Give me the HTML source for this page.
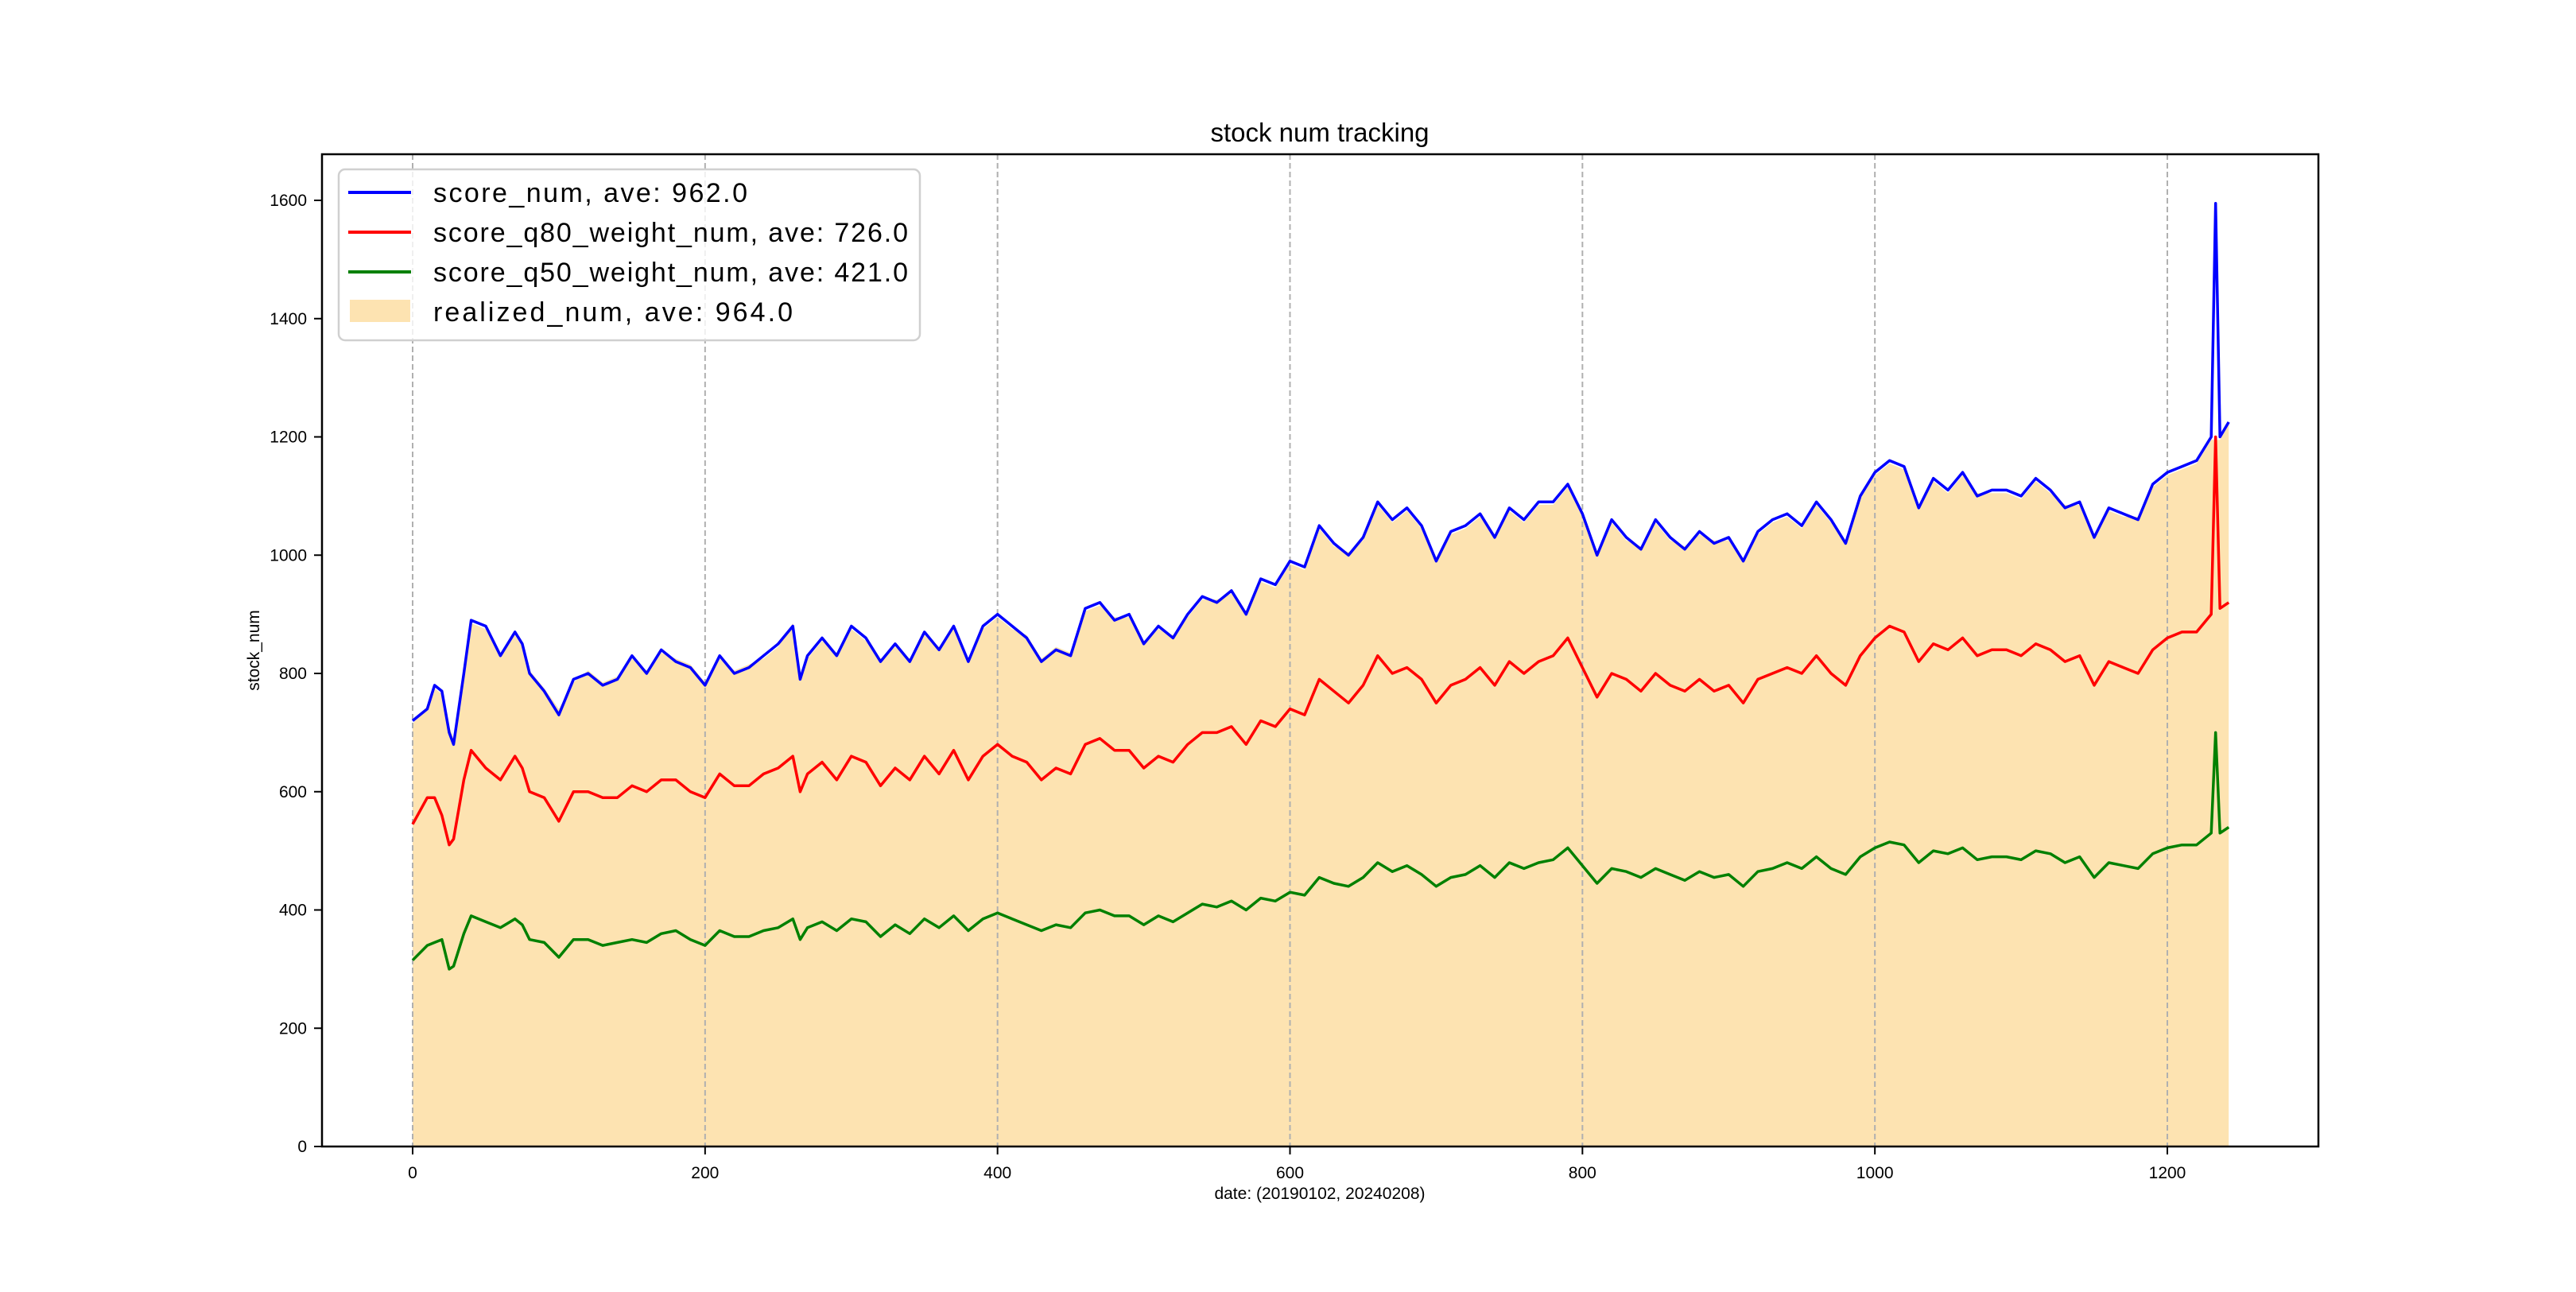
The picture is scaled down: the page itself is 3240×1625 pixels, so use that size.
<!DOCTYPE html>
<html><head><meta charset="utf-8"><style>
html,body{margin:0;padding:0;background:#fff}
svg text{font-family:"Liberation Sans","WenQuanYi Zen Hei",sans-serif}
</style></head><body>
<svg id="chart" width="3240" height="1620" xmlns="http://www.w3.org/2000/svg">
<rect width="3240" height="1620" fill="#fff"/>
<g id="fillLayer"></g>
<g id="gridLayer"></g>
<g id="lineLayer"></g>
<rect x="405" y="194" width="2511" height="1248" fill="none" stroke="#000" stroke-width="2.5"/>
<g id="axisLayer"></g>
<text x="1660" y="178" font-size="33" text-anchor="middle">stock num tracking</text>
<text x="1660" y="1508" font-size="21" text-anchor="middle">date: (20190102, 20240208)</text>
<text x="0" y="0" font-size="21" text-anchor="middle" transform="translate(326,818) rotate(-90)">stock_num</text>
<g>
<rect x="426" y="213" width="731" height="215" rx="8" fill="#fff" fill-opacity="0.8" stroke="#d0d0d0" stroke-width="2.5"/>
<line x1="438" y1="242" x2="517" y2="242" stroke="#0000ff" stroke-width="4"/>
<text x="545" y="254" font-size="34" textLength="395">score_num, ave: 962.0</text>
<line x1="438" y1="292" x2="517" y2="292" stroke="#ff0000" stroke-width="4"/>
<text x="545" y="304" font-size="34" textLength="597">score_q80_weight_num, ave: 726.0</text>
<line x1="438" y1="342" x2="517" y2="342" stroke="#008000" stroke-width="4"/>
<text x="545" y="354" font-size="34" textLength="597">score_q50_weight_num, ave: 421.0</text>
<rect x="440" y="377" width="76" height="28" fill="#fde3b1"/>
<text x="545" y="404" font-size="34" textLength="452">realized_num, ave: 964.0</text>
</g>
</svg>
<script>
const days=[0,10,15,20,25,28,35,40,50,60,70,75,80,90,100,110,120,130,140,150,160,170,180,190,200,210,220,230,240,250,260,265,270,280,290,300,310,320,330,340,350,360,370,380,390,400,410,420,430,440,450,460,470,480,490,500,510,520,530,540,550,560,570,580,590,600,610,620,630,640,650,660,670,680,690,700,710,720,730,740,750,760,770,780,790,800,810,820,830,840,850,860,870,880,890,900,910,920,930,940,950,960,970,980,990,1000,1010,1020,1030,1040,1050,1060,1070,1080,1090,1100,1110,1120,1130,1140,1150,1160,1170,1180,1190,1200,1210,1220,1230,1233,1236,1242];
const scoreNum=[720,740,780,770,700,680,800,890,880,830,870,850,800,770,730,790,800,780,790,830,800,840,820,810,780,830,800,810,830,850,880,790,830,860,830,880,860,820,850,820,870,840,880,820,880,900,880,860,820,840,830,910,920,890,900,850,880,860,900,930,920,940,900,960,950,990,980,1050,1020,1000,1030,1090,1060,1080,1050,990,1040,1050,1070,1030,1080,1060,1090,1090,1120,1070,1000,1060,1030,1010,1060,1030,1010,1040,1020,1030,990,1040,1060,1070,1050,1090,1060,1020,1100,1140,1160,1150,1080,1130,1110,1140,1100,1110,1110,1100,1130,1110,1080,1090,1030,1080,1070,1060,1120,1140,1150,1160,1200,1595,1200,1225];
const q80Num=[545,590,590,560,510,520,620,670,640,620,660,640,600,590,550,600,600,590,590,610,600,620,620,600,590,630,610,610,630,640,660,600,630,650,620,660,650,610,640,620,660,630,670,620,660,680,660,650,620,640,630,680,690,670,670,640,660,650,680,700,700,710,680,720,710,740,730,790,770,750,780,830,800,810,790,750,780,790,810,780,820,800,820,830,860,810,760,800,790,770,800,780,770,790,770,780,750,790,800,810,800,830,800,780,830,860,880,870,820,850,840,860,830,840,840,830,850,840,820,830,780,820,810,800,840,860,870,870,900,1200,910,920];
const q50Num=[315,340,345,350,300,305,360,390,380,370,385,375,350,345,320,350,350,340,345,350,345,360,365,350,340,365,355,355,365,370,385,350,370,380,365,385,380,355,375,360,385,370,390,365,385,395,385,375,365,375,370,395,400,390,390,375,390,380,395,410,405,415,400,420,415,430,425,455,445,440,455,480,465,475,460,440,455,460,475,455,480,470,480,485,505,475,445,470,465,455,470,460,450,465,455,460,440,465,470,480,470,490,470,460,490,505,515,510,480,500,495,505,485,490,490,485,500,495,480,490,455,480,475,470,495,505,510,510,530,700,530,540];
const realizedNum=[715,745,775,765,710,690,795,885,875,835,865,845,805,775,740,785,805,785,795,825,805,835,825,815,785,825,805,815,825,845,885,795,825,855,835,875,855,825,845,825,865,845,875,825,875,895,875,865,825,845,835,905,915,895,895,855,875,865,895,925,925,935,905,955,945,985,975,1045,1015,1005,1025,1085,1055,1075,1045,995,1035,1045,1065,1035,1075,1055,1085,1085,1115,1065,1005,1055,1025,1015,1055,1025,1015,1035,1025,1025,995,1035,1055,1065,1045,1085,1055,1025,1095,1135,1155,1145,1085,1125,1105,1135,1105,1105,1105,1095,1125,1105,1085,1085,1035,1075,1065,1065,1115,1135,1145,1155,1195,1195,1195,1225];
const xTicks=[0,200,400,600,800,1000,1200];
const yTicks=[0,200,400,600,800,1000,1200,1400,1600];

const NS="http://www.w3.org/2000/svg";
const X0=519,XS=(2726-519)/1200,Y0=1442,YS=(1442-252)/1600;
function xPos(d){return X0+d*XS;}
function yPos(v){return Y0-v*YS;}
function mk(tag,attrs,parent){const e=document.createElementNS(NS,tag);for(const k in attrs)e.setAttribute(k,attrs[k]);parent.appendChild(e);return e;}
const fillLayer=document.getElementById('fillLayer'),gridLayer=document.getElementById('gridLayer'),lineLayer=document.getElementById('lineLayer'),axisLayer=document.getElementById('axisLayer');

let pts=days.map((d,i)=>xPos(d).toFixed(1)+','+yPos(realizedNum[i]).toFixed(1));
pts.unshift(xPos(days[0]).toFixed(1)+','+yPos(0));
pts.push(xPos(days[days.length-1]).toFixed(1)+','+yPos(0));
const area=mk('polygon',{points:pts.join(' '),fill:'#fde3b1'},fillLayer);



xTicks.forEach(t=>{
  const g=mk('line',{x1:xPos(t),x2:xPos(t),y1:194,y2:1442,stroke:'#b0b0b0','stroke-width':2,'stroke-dasharray':'7,4'},gridLayer);
  
  
  const tk=mk('line',{x1:xPos(t),x2:xPos(t),y1:1442,y2:1452,stroke:'#000','stroke-width':2},axisLayer);
  
  
  const tl=mk('text',{x:xPos(t),y:1482,'font-size':21,'text-anchor':'middle'},axisLayer);
  tl.textContent=t;
  
  
});
yTicks.forEach(t=>{
  const tk=mk('line',{x1:395,x2:405,y1:yPos(t),y2:yPos(t),stroke:'#000','stroke-width':2},axisLayer);
  
  
  const tl=mk('text',{x:386,y:yPos(t)+7,'font-size':21,'text-anchor':'end'},axisLayer);
  tl.textContent=t;
  
  
});
function drawLine(vals,color,name){
  const p=mk('polyline',{points:days.map((d,i)=>xPos(d).toFixed(1)+','+yPos(vals[i]).toFixed(1)).join(' '),fill:'none',stroke:color,'stroke-width':3.5,'stroke-linejoin':'round'},lineLayer);
  
  
}
drawLine(q50Num,'#008000','score-q50-line');
drawLine(q80Num,'#ff0000','score-q80-line');
drawLine(scoreNum,'#0000ff','score-num-line');
</script>
</body></html>
